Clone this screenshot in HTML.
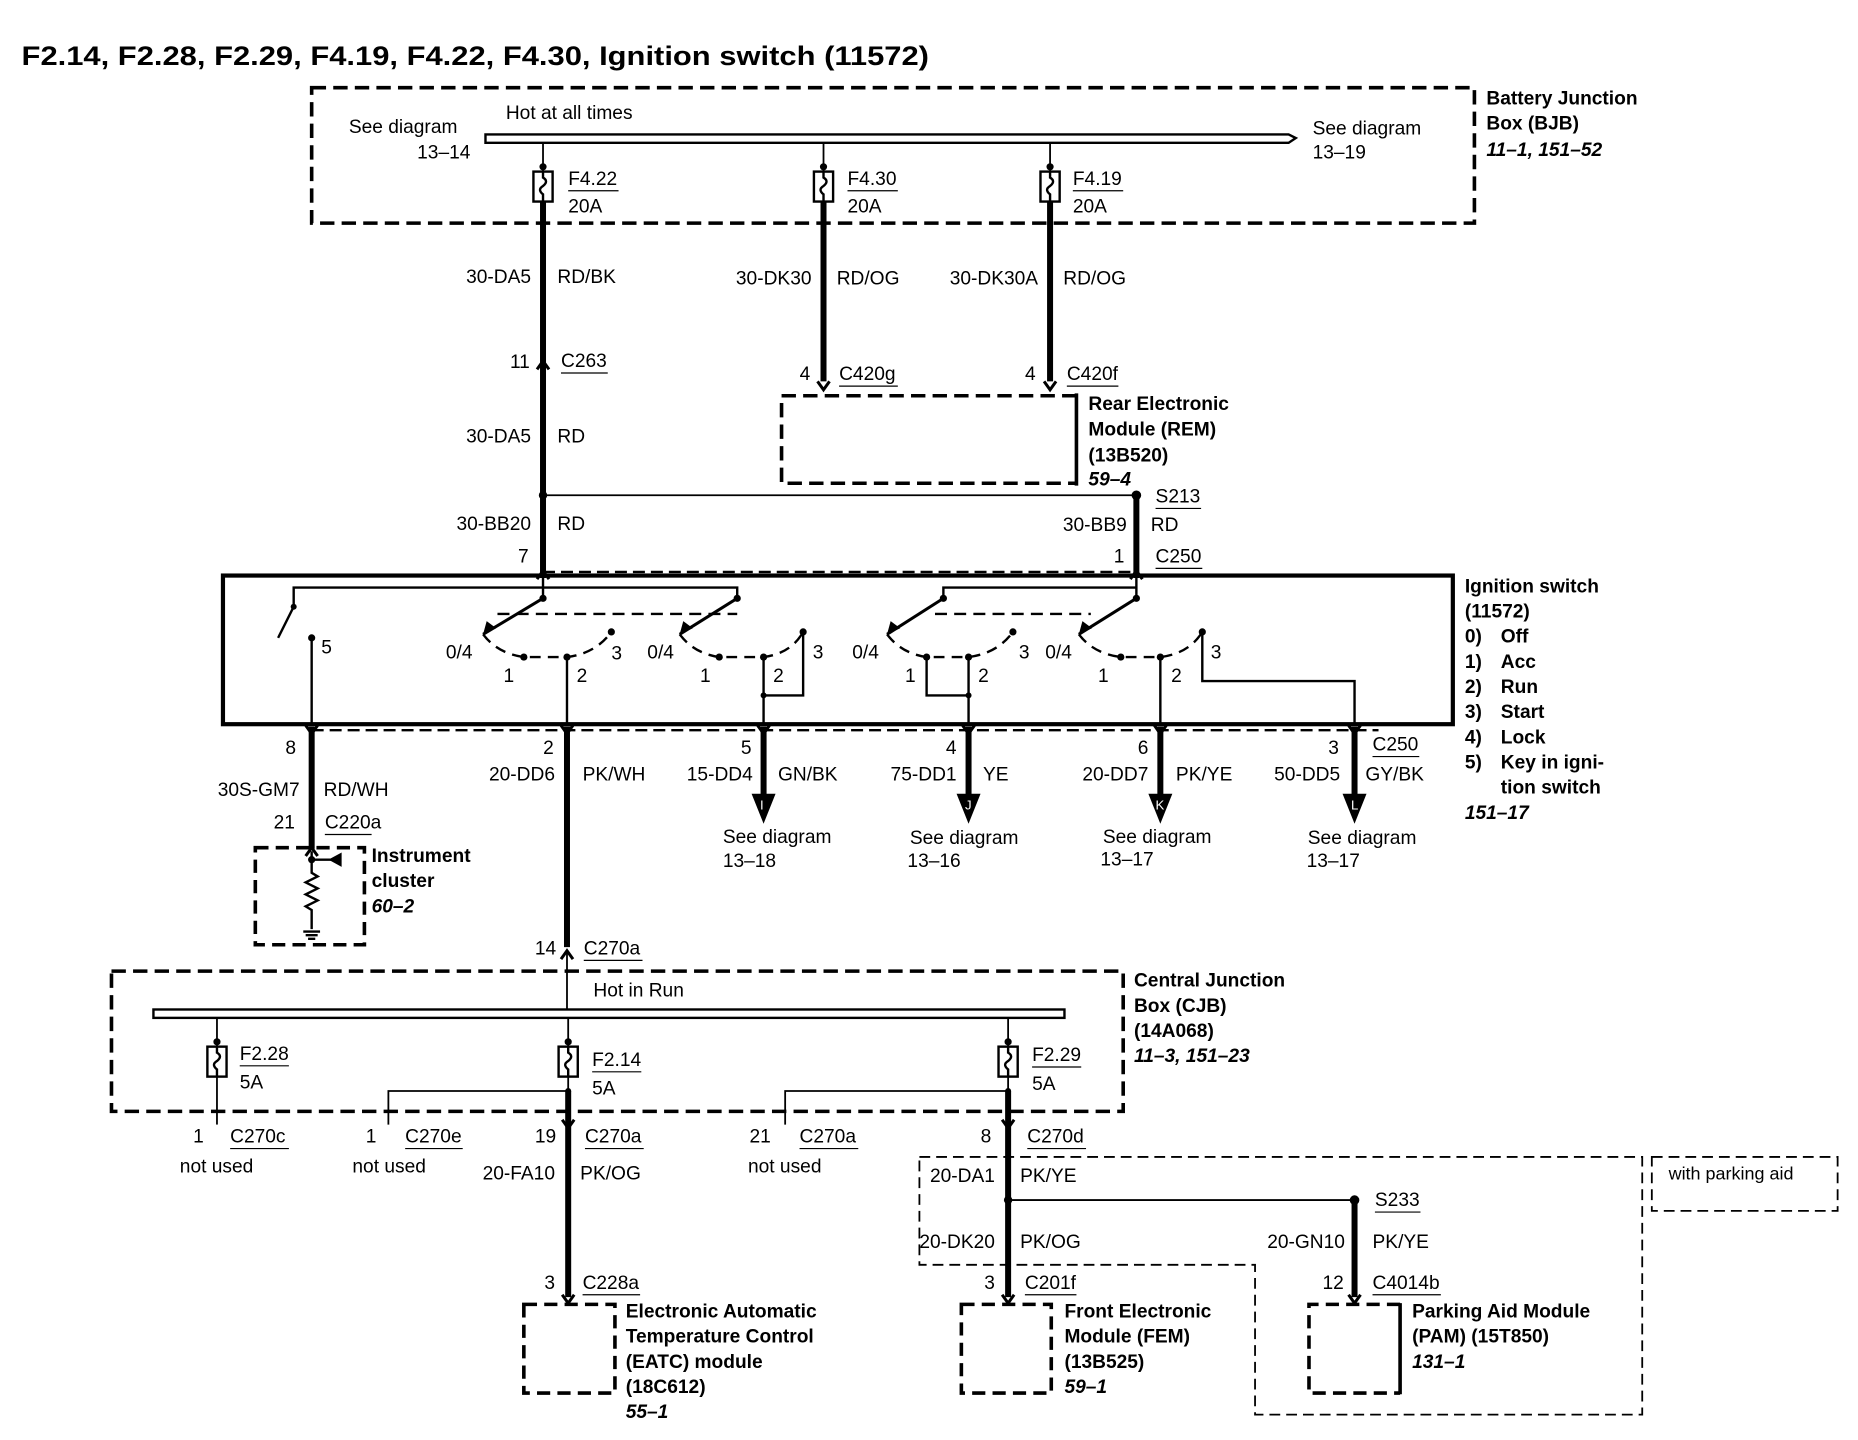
<!DOCTYPE html>
<html><head><meta charset="utf-8"><style>
html,body{margin:0;padding:0;background:#fff}
svg{display:block}
text{font-family:"Liberation Sans",sans-serif;font-size:16px;fill:#000}
.b{font-weight:bold}
.bi{font-weight:bold;font-style:italic}
.r{text-anchor:end}
</style></head><body>
<svg width="1858" height="1440" viewBox="0 0 1550 1201" xmlns="http://www.w3.org/2000/svg">
<defs>
<g id="fuse"><rect x="-8" y="0" width="16" height="25" fill="#fff" stroke="#000" stroke-width="2"/><path d="M0,0 v5 q5,3 0,7 q-5,3 0,7 v6" fill="none" stroke="#000" stroke-width="2"/></g>
<g id="up"><path d="M-5,6 L0,-1 L5,6" fill="none" stroke="#000" stroke-width="2.5"/></g>
<g id="dn"><path d="M-5,-6 L0,1 L5,-6" fill="none" stroke="#000" stroke-width="2.5"/></g>
</defs>
<text x="18" y="54" class="b" style="font-size:22px" textLength="757" lengthAdjust="spacingAndGlyphs">F2.14, F2.28, F2.29, F4.19, F4.22, F4.30, Ignition switch (11572)</text>

<!-- BJB -->
<rect x="260" y="73" width="970" height="113" fill="none" stroke="#000" stroke-width="3" stroke-dasharray="12,6"/>
<path d="M405,112 H1075 L1081,115 L1075,119 H405 Z" fill="#fff" stroke="#000" stroke-width="2"/>
<text x="422" y="99">Hot at all times</text>
<text x="291" y="111">See diagram</text><text x="348" y="132">13–14</text>
<text x="1095" y="112">See diagram</text><text x="1095" y="132">13–19</text>
<text x="1240" y="87" class="b">Battery Junction</text>
<text x="1240" y="108" class="b">Box (BJB)</text>
<text x="1240" y="130" class="bi">11–1, 151–52</text>

<g stroke="#000" stroke-width="1.5">
<line x1="453" y1="119" x2="453" y2="143"/><line x1="687" y1="119" x2="687" y2="143"/><line x1="876" y1="119" x2="876" y2="143"/>
</g>
<circle cx="453" cy="139" r="3"/><circle cx="687" cy="139" r="3"/><circle cx="876" cy="139" r="3"/>
<use href="#fuse" x="453" y="143"/><use href="#fuse" x="687" y="143"/><use href="#fuse" x="876" y="143"/>
<text x="474" y="154">F4.22</text><line x1="474" y1="159" x2="516" y2="159" stroke="#000"/><text x="474" y="177">20A</text>
<text x="707" y="154">F4.30</text><line x1="707" y1="159" x2="749" y2="159" stroke="#000"/><text x="707" y="177">20A</text>
<text x="895" y="154">F4.19</text><line x1="895" y1="159" x2="937" y2="159" stroke="#000"/><text x="895" y="177">20A</text>

<g stroke="#000" stroke-width="5">
<line x1="453" y1="168" x2="453" y2="413"/>
<line x1="687" y1="168" x2="687" y2="318"/>
<line x1="876" y1="168" x2="876" y2="318"/>
<line x1="453" y1="413" x2="453" y2="482"/>
<line x1="948" y1="413" x2="948" y2="482"/>
</g>
<use href="#up" x="453" y="302"/><use href="#dn" x="687" y="324"/><use href="#dn" x="876" y="324"/>
<text x="443" y="236" class="r">30-DA5</text><text x="465" y="236">RD/BK</text>
<text x="677" y="237" class="r">30-DK30</text><text x="698" y="237">RD/OG</text>
<text x="866" y="237" class="r">30-DK30A</text><text x="887" y="237">RD/OG</text>
<text x="442" y="307" class="r">11</text><text x="468" y="306">C263</text><line x1="468" y1="311" x2="507" y2="311" stroke="#000"/>
<text x="676" y="317" class="r">4</text><text x="700" y="317">C420g</text><line x1="700" y1="322" x2="749" y2="322" stroke="#000"/>
<text x="864" y="317" class="r">4</text><text x="890" y="317">C420f</text><line x1="890" y1="322" x2="933" y2="322" stroke="#000"/>
<text x="443" y="369" class="r">30-DA5</text><text x="465" y="369">RD</text>

<!-- REM -->
<path d="M898,330 H652 V403 H898" fill="none" stroke="#000" stroke-width="3" stroke-dasharray="12,6"/>
<line x1="898" y1="328" x2="898" y2="405" stroke="#000" stroke-width="3"/>
<text x="908" y="342" class="b">Rear Electronic</text>
<text x="908" y="363" class="b">Module (REM)</text>
<text x="908" y="385" class="b">(13B520)</text>
<text x="908" y="405" class="bi">59–4</text>

<line x1="453" y1="413" x2="948" y2="413" stroke="#000" stroke-width="1.5"/>
<circle cx="453" cy="413" r="3.5"/><circle cx="948" cy="413" r="4"/>
<text x="964" y="419">S213</text><line x1="964" y1="424" x2="1002" y2="424" stroke="#000"/>
<text x="443" y="442" class="r">30-BB20</text><text x="465" y="442">RD</text>
<text x="940" y="443" class="r">30-BB9</text><text x="960" y="443">RD</text>
<text x="441" y="469" class="r">7</text><text x="938" y="469" class="r">1</text>
<text x="964" y="469">C250</text><line x1="964" y1="474" x2="1003" y2="474" stroke="#000"/>
<line x1="453" y1="477" x2="948" y2="477" stroke="#000" stroke-width="2" stroke-dasharray="10,5"/>
<use href="#up" x="453" y="477"/><use href="#up" x="948" y="477"/>

<!-- Ignition switch -->
<rect x="186" y="480" width="1026" height="124" fill="none" stroke="#000" stroke-width="3.5"/>
<text x="1222" y="494" class="b">Ignition switch</text>
<text x="1222" y="515" class="b">(11572)</text>
<text x="1222" y="536" class="b">0)</text><text x="1252" y="536" class="b">Off</text>
<text x="1222" y="557" class="b">1)</text><text x="1252" y="557" class="b">Acc</text>
<text x="1222" y="578" class="b">2)</text><text x="1252" y="578" class="b">Run</text>
<text x="1222" y="599" class="b">3)</text><text x="1252" y="599" class="b">Start</text>
<text x="1222" y="620" class="b">4)</text><text x="1252" y="620" class="b">Lock</text>
<text x="1222" y="641" class="b">5)</text><text x="1252" y="641" class="b">Key in igni-</text>
<text x="1252" y="662" class="b">tion switch</text>
<text x="1222" y="683" class="bi">151–17</text>
<g stroke="#000" stroke-width="2" fill="none">
<path d="M453,482 V497"/><path d="M245,506 V490 H615 V497"/>
<path d="M948,482 V497"/><path d="M787,497 V490 H948"/>
<path d="M245,506 L232,532"/>
<path d="M260,532 V604"/>
<path d="M415,512 H615 M780,512 H910" stroke-dasharray="10,6"/>
</g>
<circle cx="245" cy="506" r="2.5"/><circle cx="260" cy="532" r="3"/>
<text x="268" y="545">5</text>
<g stroke="#000" stroke-width="2.5" fill="none">
<path d="M453,499 L403,529"/><path d="M615,499 L567,529"/><path d="M787,499 L740,529"/><path d="M948,499 L900,529"/>
</g>
<g fill="#000">
<circle cx="453" cy="499" r="3"/><circle cx="615" cy="499" r="3"/><circle cx="787" cy="499" r="3"/><circle cx="948" cy="499" r="3"/>
<path d="M403,529 l3,-11 l8,6 z"/><path d="M567,529 l3,-11 l8,6 z"/><path d="M740,529 l3,-11 l8,6 z"/><path d="M900,529 l3,-11 l8,6 z"/>
</g>
<g stroke="#000" stroke-width="2" fill="none" stroke-dasharray="9,6">
<path d="M403,529 Q415,545 437,548 H473 Q497,545 510,527"/>
<path d="M567,529 Q579,545 600,548 H637 Q660,545 670,527"/>
<path d="M740,529 Q752,545 773,548 H808 Q832,545 845,527"/>
<path d="M900,529 Q912,545 935,548 H968 Q992,545 1003,527"/>
</g>
<g fill="#000">
<circle cx="437" cy="548" r="3"/><circle cx="473" cy="548" r="3"/><circle cx="510" cy="527" r="3"/>
<circle cx="600" cy="548" r="3"/><circle cx="637" cy="548" r="3"/><circle cx="670" cy="527" r="3"/>
<circle cx="773" cy="548" r="3"/><circle cx="808" cy="548" r="3"/><circle cx="845" cy="527" r="3"/>
<circle cx="935" cy="548" r="3"/><circle cx="968" cy="548" r="3"/><circle cx="1003" cy="527" r="3"/>
<circle cx="637" cy="580" r="2.5"/><circle cx="808" cy="580" r="2.5"/>
</g>
<g stroke="#000" stroke-width="2" fill="none">
<path d="M473,548 V604"/><path d="M637,548 V604"/><path d="M670,527 V580 H637"/>
<path d="M808,548 V604"/><path d="M773,548 V580 H808"/><path d="M968,548 V604"/>
<path d="M1003,527 V568 H1130 V604"/>
</g>
<text x="372" y="549">0/4</text><text x="420" y="569">1</text><text x="481" y="569">2</text><text x="510" y="550">3</text>
<text x="540" y="549">0/4</text><text x="584" y="569">1</text><text x="645" y="569">2</text><text x="678" y="549">3</text>
<text x="711" y="549">0/4</text><text x="755" y="569">1</text><text x="816" y="569">2</text><text x="850" y="549">3</text>
<text x="872" y="549">0/4</text><text x="916" y="569">1</text><text x="977" y="569">2</text><text x="1010" y="549">3</text>

<line x1="260" y1="609" x2="1150" y2="609" stroke="#000" stroke-width="2" stroke-dasharray="10,5"/>
<g stroke="#000" stroke-width="5">
<line x1="260" y1="606" x2="260" y2="708"/>
<line x1="473" y1="606" x2="473" y2="790"/>
<line x1="637" y1="606" x2="637" y2="664"/>
<line x1="808" y1="606" x2="808" y2="664"/>
<line x1="968" y1="606" x2="968" y2="664"/>
<line x1="1130" y1="606" x2="1130" y2="664"/>
</g>
<use href="#dn" x="260" y="611"/><use href="#dn" x="473" y="611"/><use href="#dn" x="637" y="611"/><use href="#dn" x="808" y="611"/><use href="#dn" x="968" y="611"/><use href="#dn" x="1130" y="611"/>
<g fill="#000">
<path d="M627,662 H647 L637,687 Z"/><path d="M798,662 H818 L808,687 Z"/><path d="M958,662 H978 L968,687 Z"/><path d="M1120,662 H1140 L1130,687 Z"/>
</g>
<text x="634" y="675" style="fill:#fff;font-size:11px">I</text><text x="805" y="675" style="fill:#fff;font-size:11px">J</text>
<text x="964" y="675" style="fill:#fff;font-size:11px">K</text><text x="1127" y="675" style="fill:#fff;font-size:11px">L</text>
<text x="247" y="629" class="r">8</text><text x="462" y="629" class="r">2</text><text x="627" y="629" class="r">5</text>
<text x="798" y="629" class="r">4</text><text x="958" y="629" class="r">6</text><text x="1117" y="629" class="r">3</text>
<text x="1145" y="626">C250</text><line x1="1145" y1="631" x2="1184" y2="631" stroke="#000"/>
<text x="250" y="664" class="r">30S-GM7</text><text x="270" y="664">RD/WH</text>
<text x="463" y="651" class="r">20-DD6</text><text x="486" y="651">PK/WH</text>
<text x="628" y="651" class="r">15-DD4</text><text x="649" y="651">GN/BK</text>
<text x="798" y="651" class="r">75-DD1</text><text x="820" y="651">YE</text>
<text x="958" y="651" class="r">20-DD7</text><text x="981" y="651">PK/YE</text>
<text x="1118" y="651" class="r">50-DD5</text><text x="1139" y="651">GY/BK</text>
<text x="603" y="703">See diagram</text><text x="603" y="723">13–18</text>
<text x="759" y="704">See diagram</text><text x="757" y="723">13–16</text>
<text x="920" y="703">See diagram</text><text x="918" y="722">13–17</text>
<text x="1091" y="704">See diagram</text><text x="1090" y="723">13–17</text>

<!-- Instrument cluster -->
<text x="246" y="691" class="r">21</text><text x="271" y="691">C220a</text><line x1="271" y1="696" x2="310" y2="696" stroke="#000"/>
<use href="#up" x="260" y="708"/>
<rect x="213" y="707" width="91" height="81" fill="none" stroke="#000" stroke-width="3" stroke-dasharray="11,6"/>
<g stroke="#000" stroke-width="2" fill="none">
<path d="M260,710 V728 l5,3 l-10,5 l10,5 l-10,5 l10,5 l-10,5 l5,3 V775"/>
<path d="M260,717 H280"/><path d="M253,777 h14 M255,780 h10 M257,783 h6"/>
</g>
<circle cx="260" cy="717" r="3"/><path d="M274,717 L285,711 V723 Z"/>
<text x="310" y="719" class="b">Instrument</text><text x="310" y="740" class="b">cluster</text><text x="310" y="761" class="bi">60–2</text>

<!-- CJB -->
<text x="464" y="796" class="r">14</text><text x="487" y="796">C270a</text><line x1="487" y1="801" x2="536" y2="801" stroke="#000"/>
<use href="#up" x="473" y="794"/>
<line x1="473" y1="794" x2="473" y2="843" stroke="#000" stroke-width="1.5"/>
<rect x="93" y="810" width="844" height="117" fill="none" stroke="#000" stroke-width="3" stroke-dasharray="12,6"/>
<rect x="128" y="842" width="760" height="7" fill="#fff" stroke="#000" stroke-width="2"/>
<text x="495" y="831">Hot in Run</text>
<text x="946" y="823" class="b">Central Junction</text><text x="946" y="844" class="b">Box (CJB)</text>
<text x="946" y="865" class="b">(14A068)</text><text x="946" y="886" class="bi">11–3, 151–23</text>
<g stroke="#000" stroke-width="1.5">
<line x1="181" y1="849" x2="181" y2="873"/><line x1="474" y1="849" x2="474" y2="873"/><line x1="841" y1="849" x2="841" y2="873"/>
<line x1="181" y1="898" x2="181" y2="938"/>
<path d="M474,898 V910 H324 V938" fill="none"/><path d="M841,898 V910 H655 V938" fill="none"/>
</g>
<circle cx="181" cy="869" r="3"/><circle cx="474" cy="869" r="3"/><circle cx="841" cy="869" r="3"/>
<circle cx="474" cy="910" r="2.5"/><circle cx="841" cy="910" r="2.5"/>
<use href="#fuse" x="181" y="873"/><use href="#fuse" x="474" y="873"/><use href="#fuse" x="841" y="873"/>
<text x="200" y="884">F2.28</text><line x1="200" y1="889" x2="241" y2="889" stroke="#000"/><text x="200" y="908">5A</text>
<text x="494" y="889">F2.14</text><line x1="494" y1="894" x2="535" y2="894" stroke="#000"/><text x="494" y="913">5A</text>
<text x="861" y="885">F2.29</text><line x1="861" y1="890" x2="902" y2="890" stroke="#000"/><text x="861" y="909">5A</text>
<g stroke="#000" stroke-width="5">
<line x1="474" y1="910" x2="474" y2="1082"/><line x1="841" y1="910" x2="841" y2="1082"/><line x1="1130" y1="1001" x2="1130" y2="1082"/>
</g>
<use href="#dn" x="474" y="940"/><use href="#dn" x="841" y="940"/>
<text x="170" y="953" class="r">1</text><text x="192" y="953">C270c</text><line x1="192" y1="958" x2="241" y2="958" stroke="#000"/><text x="150" y="978">not used</text>
<text x="314" y="953" class="r">1</text><text x="338" y="953">C270e</text><line x1="338" y1="958" x2="386" y2="958" stroke="#000"/><text x="294" y="978">not used</text>
<text x="464" y="953" class="r">19</text><text x="488" y="953">C270a</text><line x1="488" y1="958" x2="537" y2="958" stroke="#000"/>
<text x="643" y="953" class="r">21</text><text x="667" y="953">C270a</text><line x1="667" y1="958" x2="716" y2="958" stroke="#000"/><text x="624" y="978">not used</text>
<text x="827" y="953" class="r">8</text><text x="857" y="953">C270d</text><line x1="857" y1="958" x2="906" y2="958" stroke="#000"/>
<text x="463" y="984" class="r">20-FA10</text><text x="484" y="984">PK/OG</text>

<!-- parking aid region -->
<path d="M767,965 H1370 V1180 H1047 V1055 H767 Z" fill="none" stroke="#000" stroke-width="1.5" stroke-dasharray="9,5"/>
<rect x="1378" y="965" width="155" height="45" fill="none" stroke="#000" stroke-width="1.5" stroke-dasharray="9,5"/>
<text x="1392" y="984" style="font-size:15px">with parking aid</text>
<text x="830" y="986" class="r">20-DA1</text><text x="851" y="986">PK/YE</text>
<line x1="841" y1="1001" x2="1130" y2="1001" stroke="#000" stroke-width="1.5"/>
<circle cx="841" cy="1001" r="3.5"/><circle cx="1130" cy="1001" r="4"/>
<text x="1147" y="1006">S233</text><line x1="1147" y1="1011" x2="1185" y2="1011" stroke="#000"/>
<text x="830" y="1041" class="r">20-DK20</text><text x="851" y="1041">PK/OG</text>
<text x="1122" y="1041" class="r">20-GN10</text><text x="1145" y="1041">PK/YE</text>

<use href="#dn" x="474" y="1086"/><use href="#dn" x="841" y="1086"/><use href="#dn" x="1130" y="1086"/>
<text x="463" y="1075" class="r">3</text><text x="486" y="1075">C228a</text><line x1="486" y1="1080" x2="534" y2="1080" stroke="#000"/>
<text x="830" y="1075" class="r">3</text><text x="855" y="1075">C201f</text><line x1="855" y1="1080" x2="898" y2="1080" stroke="#000"/>
<text x="1121" y="1075" class="r">12</text><text x="1145" y="1075">C4014b</text><line x1="1145" y1="1080" x2="1202" y2="1080" stroke="#000"/>

<rect x="437" y="1088" width="76" height="74" fill="none" stroke="#000" stroke-width="3" stroke-dasharray="11,6"/>
<rect x="802" y="1088" width="75" height="74" fill="none" stroke="#000" stroke-width="3" stroke-dasharray="11,6"/>
<path d="M1168,1088 H1092 V1162 H1168" fill="none" stroke="#000" stroke-width="3" stroke-dasharray="11,6"/>
<line x1="1168" y1="1087" x2="1168" y2="1163" stroke="#000" stroke-width="3"/>
<text x="522" y="1099" class="b">Electronic Automatic</text>
<text x="522" y="1120" class="b">Temperature Control</text>
<text x="522" y="1141" class="b">(EATC) module</text>
<text x="522" y="1162" class="b">(18C612)</text>
<text x="522" y="1183" class="bi">55–1</text>
<text x="888" y="1099" class="b">Front Electronic</text>
<text x="888" y="1120" class="b">Module (FEM)</text>
<text x="888" y="1141" class="b">(13B525)</text>
<text x="888" y="1162" class="bi">59–1</text>
<text x="1178" y="1099" class="b">Parking Aid Module</text>
<text x="1178" y="1120" class="b">(PAM) (15T850)</text>
<text x="1178" y="1141" class="bi">131–1</text>
</svg>
</body></html>
